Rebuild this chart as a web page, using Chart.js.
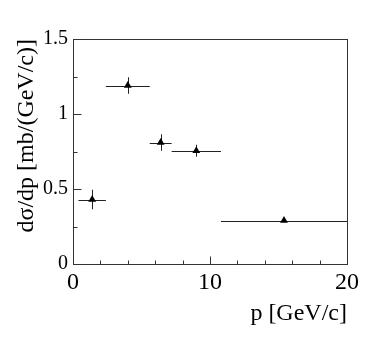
<!DOCTYPE html>
<html>
<head>
<meta charset="utf-8">
<script src="https://cdn.jsdelivr.net/npm/chart.js@4/dist/chart.umd.min.js"></script>
<style>
  body { margin: 0; background: #fff; }
  canvas { display: block; }
</style>
</head>
<body>
<canvas id="chart" width="374" height="363"></canvas>
<script>
// data
const pCenter = [1.4, 4.0, 6.4, 9.0, 15.4];
const pLow = [0.4, 2.4, 5.6, 7.2, 10.8];
const pHigh = [2.4, 5.6, 7.2, 10.8, 20];
const dsdp = [0.43, 1.19, 0.81, 0.755, 0.29];
const dsdpErr = [0.065, 0.055, 0.055, 0.04, 0.012];

const xTicks = [0, 10, 20];
const yTicks = [0, 0.5, 1, 1.5];

const serif = 'Liberation Serif';

// error bars + frame + inward ticks (ROOT style)
const rootStyle = {
  id: 'rootStyle',
  beforeDatasetsDraw(chart) {
    const ctx = chart.ctx;
    const xs = chart.scales.x, ys = chart.scales.y;
    ctx.save();
    ctx.strokeStyle = '#222';
    ctx.lineWidth = 1;
    ctx.beginPath();
    pCenter.forEach((p, i) => {
      const y = Math.round(ys.getPixelForValue(dsdp[i])) + 0.5;
      ctx.moveTo(xs.getPixelForValue(pLow[i]), y);
      ctx.lineTo(xs.getPixelForValue(pHigh[i]), y);
      const x = Math.round(xs.getPixelForValue(p)) + 0.5;
      ctx.moveTo(x, ys.getPixelForValue(dsdp[i] - dsdpErr[i]));
      ctx.lineTo(x, ys.getPixelForValue(dsdp[i] + dsdpErr[i]));
    });
    ctx.stroke();
    ctx.restore();
  },
  afterDraw(chart) {
    const ctx = chart.ctx;
    const a = chart.chartArea;
    const xs = chart.scales.x, ys = chart.scales.y;
    ctx.save();
    ctx.strokeStyle = '#333';
    ctx.lineWidth = 1;
    const l = Math.round(a.left) + 0.5, r = Math.round(a.right) + 0.5;
    const t = Math.round(a.top) + 0.5, b = Math.round(a.bottom) + 0.5;
    ctx.strokeRect(l, t, r - l, b - t);
    ctx.beginPath();
    for (let v = 0; v <= 20; v += 2) {
      const x = Math.round(xs.getPixelForValue(v)) + 0.5;
      const len = v % 10 === 0 ? 8 : 4;
      ctx.moveTo(x, b);
      ctx.lineTo(x, b - len);
    }
    for (let k = 0; k <= 6; k++) {
      const v = k * 0.25;
      const y = Math.round(ys.getPixelForValue(v)) + 0.5;
      const len = k % 2 === 0 ? 8 : 4;
      ctx.moveTo(l, y);
      ctx.lineTo(l + len, y);
    }
    ctx.stroke();
    ctx.restore();
  }
};

new Chart(document.getElementById('chart'), {
  type: 'scatter',
  data: {
    datasets: [{
      data: pCenter.map((p, i) => ({ x: p, y: dsdp[i] })),
      pointStyle: 'triangle',
      pointRadius: 4.5,
      pointHoverRadius: 4.5,
      backgroundColor: '#000',
      borderColor: '#000',
      borderWidth: 0
    }]
  },
  options: {
    responsive: false,
    animation: false,
    devicePixelRatio: 1,
    layout: { padding: { left: 0, right: 27, top: 39, bottom: 0 } },
    plugins: { legend: { display: false }, tooltip: { enabled: false } },
    scales: {
      x: {
        type: 'linear',
        min: 0, max: 20,
        afterBuildTicks: s => { s.ticks = xTicks.map(v => ({ value: v })); },
        afterFit: s => { s.height = 99; },
        grid: { display: false, drawTicks: false },
        border: { display: false },
        ticks: { color: '#000', font: { family: serif, size: 24 }, padding: 4, maxRotation: 0 },
        title: {
          display: true, text: 'p [GeV/c]', align: 'end', color: '#000',
          font: { family: serif, size: 24 }, padding: { top: 0, bottom: 35 }
        }
      },
      y: {
        type: 'linear',
        min: 0, max: 1.5,
        afterBuildTicks: s => { s.ticks = yTicks.map(v => ({ value: v })); },
        afterFit: s => { s.width = 73; },
        grid: { display: false, drawTicks: false },
        border: { display: false },
        ticks: {
          color: '#000', font: { family: serif, size: 20 }, padding: 5,
          callback: v => String(v)
        },
        title: {
          display: true, text: 'dσ/dp [mb/(GeV/c)]', align: 'end', color: '#000',
          font: { family: serif, size: 24 }, padding: { top: 12, bottom: 0 }
        }
      }
    }
  },
  plugins: [rootStyle]
});
</script>
</body>
</html>
